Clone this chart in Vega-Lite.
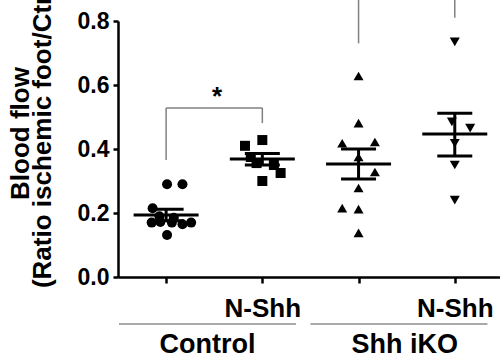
{
  "$schema": "https://vega.github.io/schema/vega-lite/v6.json",
  "width": 382,
  "height": 256,
  "autosize": {"type": "none"},
  "padding": {"left": 118, "top": 21, "right": 0, "bottom": 86},
  "background": "white",
  "config": {"view": {"stroke": null}, "font": "Liberation Sans"},
  "datasets": {
    "points": [
      {"group": "Control", "x": 1.01, "flow": 0.29},
      {"group": "Control", "x": 1.17, "flow": 0.29},
      {"group": "Control", "x": 0.86, "flow": 0.215},
      {"group": "Control", "x": 0.93, "flow": 0.19},
      {"group": "Control", "x": 1.08, "flow": 0.185},
      {"group": "Control", "x": 0.85, "flow": 0.17},
      {"group": "Control", "x": 0.94, "flow": 0.172},
      {"group": "Control", "x": 1.06, "flow": 0.17},
      {"group": "Control", "x": 1.17, "flow": 0.165},
      {"group": "Control", "x": 1.26, "flow": 0.17},
      {"group": "Control", "x": 1.01, "flow": 0.131},
      {"group": "Control N-Shh", "x": 2.0, "flow": 0.428},
      {"group": "Control N-Shh", "x": 1.82, "flow": 0.41},
      {"group": "Control N-Shh", "x": 1.88, "flow": 0.375},
      {"group": "Control N-Shh", "x": 1.94, "flow": 0.356},
      {"group": "Control N-Shh", "x": 2.12, "flow": 0.35},
      {"group": "Control N-Shh", "x": 2.19, "flow": 0.325},
      {"group": "Control N-Shh", "x": 2.0, "flow": 0.3},
      {"group": "Shh iKO", "x": 3.0, "flow": 0.628},
      {"group": "Shh iKO", "x": 3.0, "flow": 0.481},
      {"group": "Shh iKO", "x": 2.83, "flow": 0.418},
      {"group": "Shh iKO", "x": 3.17, "flow": 0.422},
      {"group": "Shh iKO", "x": 3.0, "flow": 0.375},
      {"group": "Shh iKO", "x": 3.17, "flow": 0.328},
      {"group": "Shh iKO", "x": 3.0, "flow": 0.278},
      {"group": "Shh iKO", "x": 2.83, "flow": 0.215},
      {"group": "Shh iKO", "x": 3.0, "flow": 0.212},
      {"group": "Shh iKO", "x": 3.0, "flow": 0.138},
      {"group": "Shh iKO N-Shh", "x": 4.0, "flow": 0.735},
      {"group": "Shh iKO N-Shh", "x": 3.97, "flow": 0.485},
      {"group": "Shh iKO N-Shh", "x": 4.16, "flow": 0.465},
      {"group": "Shh iKO N-Shh", "x": 4.0, "flow": 0.418},
      {"group": "Shh iKO N-Shh", "x": 4.0, "flow": 0.35},
      {"group": "Shh iKO N-Shh", "x": 4.0, "flow": 0.24}
    ],
    "summary": [
      {"group": "Control", "x": 1, "mean": 0.194, "lo": 0.176, "hi": 0.212},
      {"group": "Control N-Shh", "x": 2, "mean": 0.369, "lo": 0.35, "hi": 0.386},
      {"group": "Shh iKO", "x": 3, "mean": 0.353, "lo": 0.306, "hi": 0.4},
      {"group": "Shh iKO N-Shh", "x": 4, "mean": 0.447, "lo": 0.378, "hi": 0.512}
    ],
    "brackets": [
      {"x": 1, "x2": 2, "y": 0.528, "y2": 0.528},
      {"x": 1, "x2": 1, "y": 0.528, "y2": 0.366},
      {"x": 2, "x2": 2, "y": 0.528, "y2": 0.481},
      {"x": 3, "x2": 3, "y": 0.73, "y2": 0.95},
      {"x": 4, "x2": 4, "y": 0.81, "y2": 0.95}
    ],
    "stars": [{"x": 1.53, "y": 0.536, "label": "*"}],
    "groups": [
      {"label": "Control", "start": 0.51, "end": 2.35, "center": 1.43},
      {"label": "Shh iKO", "start": 2.5, "end": 4.34, "center": 3.48}
    ]
  },
  "layer": [
    {
      "data": {"name": "points"},
      "mark": {"type": "point", "filled": true, "color": "black", "opacity": 1, "size": 100},
      "encoding": {
        "x": {
          "field": "x", "type": "quantitative",
          "scale": {"domain": [0.5, 4.47], "nice": false, "zero": false},
          "axis": {
            "values": [1, 2, 3, 4],
            "labelExpr": "datum.value == 2 || datum.value == 4 ? 'N-Shh' : ''",
            "labelFontSize": 26, "labelFontWeight": "bold", "labelColor": "black",
            "labelDx": -10, "labelPadding": 12, "labelFlush": false, "labelOverlap": false,
            "tickSize": 6, "tickWidth": 2.5, "tickColor": "black",
            "domainColor": "black", "domainWidth": 2.5, "grid": false, "title": null
          }
        },
        "y": {
          "field": "flow", "type": "quantitative",
          "scale": {"domain": [0, 0.8], "nice": false},
          "axis": {
            "values": [0, 0.2, 0.4, 0.6, 0.8], "format": ".1f",
            "labelFontSize": 23, "labelFontWeight": "bold", "labelColor": "black", "labelPadding": 4,
            "tickSize": 5, "tickWidth": 2.5, "tickColor": "black",
            "domainColor": "black", "domainWidth": 2.5, "grid": false,
            "title": ["Blood flow", "(Ratio ischemic foot/Ctrl)"],
            "titleFontSize": 26, "titleFontWeight": "bold", "titleColor": "black",
            "titleLineHeight": 22, "titleX": -90, "titleY": 112, "titleAlign": "center",
            "titleBaseline": "alphabetic", "titleAngle": 270
          }
        },
        "shape": {
          "field": "group", "type": "nominal",
          "scale": {"domain": ["Control", "Control N-Shh", "Shh iKO", "Shh iKO N-Shh"], "range": ["circle", "square", "triangle-up", "triangle-down"]},
          "legend": null
        }
      }
    },
    {
      "data": {"name": "groups"},
      "mark": {"type": "rule", "color": "#8c8c8c", "strokeWidth": 1.5},
      "encoding": {
        "x": {"field": "start", "type": "quantitative", "scale": {"domain": [0.5, 4.47], "nice": false, "zero": false}},
        "x2": {"field": "end"},
        "y": {"datum": -0.147, "type": "quantitative", "scale": {"domain": [0, 0.8], "nice": false}}
      }
    },
    {
      "data": {"name": "groups"},
      "mark": {"type": "text", "fontSize": 27, "fontWeight": "bold", "color": "black", "baseline": "alphabetic", "align": "center"},
      "encoding": {
        "x": {"field": "center", "type": "quantitative", "scale": {"domain": [0.5, 4.47], "nice": false, "zero": false}},
        "y": {"datum": -0.2375, "type": "quantitative", "scale": {"domain": [0, 0.8], "nice": false}},
        "text": {"field": "label"}
      }
    },
    {
      "data": {"name": "brackets"},
      "mark": {"type": "rule", "color": "#808080", "strokeWidth": 1.5},
      "encoding": {
        "x": {"field": "x", "type": "quantitative", "scale": {"domain": [0.5, 4.47], "nice": false, "zero": false}},
        "x2": {"field": "x2"},
        "y": {"field": "y", "type": "quantitative", "scale": {"domain": [0, 0.8], "nice": false}},
        "y2": {"field": "y2"}
      }
    },
    {
      "data": {"name": "stars"},
      "mark": {"type": "text", "fontSize": 26, "fontWeight": "bold", "color": "black", "baseline": "alphabetic", "align": "center"},
      "encoding": {
        "x": {"field": "x", "type": "quantitative", "scale": {"domain": [0.5, 4.47], "nice": false, "zero": false}},
        "y": {"field": "y", "type": "quantitative", "scale": {"domain": [0, 0.8], "nice": false}},
        "text": {"field": "label"}
      }
    },
    {
      "data": {"name": "summary"},
      "mark": {"type": "rule", "color": "black", "strokeWidth": 3},
      "encoding": {
        "x": {"field": "x", "type": "quantitative", "scale": {"domain": [0.5, 4.47], "nice": false, "zero": false}},
        "y": {"field": "lo", "type": "quantitative", "scale": {"domain": [0, 0.8], "nice": false}},
        "y2": {"field": "hi"}
      }
    },
    {
      "data": {"name": "summary"},
      "mark": {"type": "tick", "orient": "horizontal", "color": "black", "size": 35, "thickness": 3, "opacity": 1},
      "encoding": {
        "x": {"field": "x", "type": "quantitative", "scale": {"domain": [0.5, 4.47], "nice": false, "zero": false}},
        "y": {"field": "lo", "type": "quantitative", "scale": {"domain": [0, 0.8], "nice": false}}
      }
    },
    {
      "data": {"name": "summary"},
      "mark": {"type": "tick", "orient": "horizontal", "color": "black", "size": 35, "thickness": 3, "opacity": 1},
      "encoding": {
        "x": {"field": "x", "type": "quantitative", "scale": {"domain": [0.5, 4.47], "nice": false, "zero": false}},
        "y": {"field": "hi", "type": "quantitative", "scale": {"domain": [0, 0.8], "nice": false}}
      }
    },
    {
      "data": {"name": "summary"},
      "mark": {"type": "tick", "orient": "horizontal", "color": "black", "size": 65, "thickness": 3, "opacity": 1},
      "encoding": {
        "x": {"field": "x", "type": "quantitative", "scale": {"domain": [0.5, 4.47], "nice": false, "zero": false}},
        "y": {"field": "mean", "type": "quantitative", "scale": {"domain": [0, 0.8], "nice": false}}
      }
    }
  ]
}
